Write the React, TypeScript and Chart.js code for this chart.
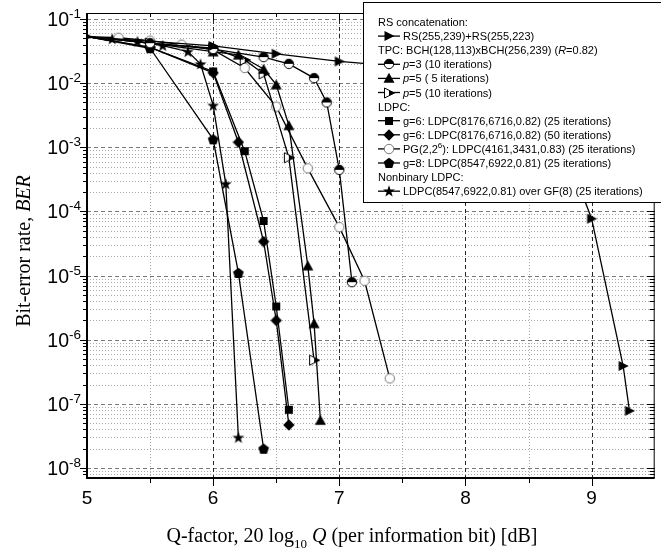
import React, { useEffect, useRef } from "react";
import { Chart, registerables } from "chart.js";
Chart.register(...registerables);

// ---------- data ----------
const rsX = [5, 6, 6.5, 7, 8, 8.6, 9, 9.25, 9.3];
const rsY = [0.053, 0.038, 0.0287, 0.0218, 0.015, 0.009, 7.7e-5, 3.9e-7, 7.8e-8];

const p3X = [5, 5.5, 6, 6.4, 6.6, 6.8, 6.9, 7, 7.1];
const p3Y = [0.053, 0.042, 0.034, 0.0255, 0.02, 0.012, 0.005, 4.45e-4, 7.9e-6];

const p5aX = [5, 5.5, 6, 6.2, 6.4, 6.5, 6.6, 6.75, 6.8, 6.85];
const p5aY = [0.053, 0.042, 0.031, 0.0277, 0.0166, 0.0095, 0.0022, 1.43e-5, 1.8e-6, 5.6e-8];

const p5bX = [5, 5.5, 6, 6.25, 6.4, 6.6, 6.8];
const p5bY = [0.053, 0.042, 0.035, 0.023, 0.014, 6.9e-4, 4.8e-7];

const g6aX = [5, 5.5, 6, 6.25, 6.4, 6.5, 6.6];
const g6aY = [0.053, 0.036, 0.0152, 8.7e-4, 7.1e-5, 3.3e-6, 8.1e-8];

const g6bX = [5, 5.5, 6, 6.2, 6.4, 6.5, 6.6];
const g6bY = [0.053, 0.036, 0.0145, 1.2e-3, 3.4e-5, 2e-6, 4.7e-8];

const pgX = [5, 5.25, 5.5, 5.75, 6, 6.25, 6.5, 6.75, 7, 7.2, 7.4];
const pgY = [0.053, 0.051, 0.046, 0.0398, 0.033, 0.0172, 4.3e-3, 4.7e-4, 5.7e-5, 8.3e-6, 2.5e-7];

const g8X = [5, 5.5, 6, 6.2, 6.4];
const g8Y = [0.053, 0.035, 1.33e-3, 1.1e-5, 2e-8];

const nbX = [5, 5.2, 5.4, 5.6, 5.8, 5.9, 6, 6.1, 6.2];
const nbY = [0.053, 0.049, 0.0446, 0.0386, 0.031, 0.0199, 4.5e-3, 2.7e-4, 3e-8];

const xMajorTicks = [5, 6, 7, 8, 9];
const xMinorTicks = [5.5, 6.5, 7.5, 8.5, 9.5];
const yExponents = [-1, -2, -3, -4, -5, -6, -7, -8];

const X_MIN = 5, X_MAX = 9.5, Y_MIN = 7.5e-9, Y_MAX = 0.124;

type Seg = { t: string; f: string; dy?: number };

const SANS = '"Liberation Sans", Arial, sans-serif';
const SERIF = '"Liberation Serif", "Times New Roman", serif';

function richWidth(ctx: CanvasRenderingContext2D, segs: Seg[]) {
  let w = 0;
  for (const s of segs) { ctx.font = s.f; w += ctx.measureText(s.t).width; }
  return w;
}
function drawRich(ctx: CanvasRenderingContext2D, segs: Seg[], x: number, y: number, align: "left" | "center" | "right") {
  const w = richWidth(ctx, segs);
  let cx = align === "left" ? x : align === "center" ? x - w / 2 : x - w;
  ctx.textAlign = "left";
  ctx.textBaseline = "alphabetic";
  for (const s of segs) {
    ctx.font = s.f;
    ctx.fillText(s.t, cx, y + (s.dy || 0));
    cx += ctx.measureText(s.t).width;
  }
}

function makeMarker(size: number, draw: (c: CanvasRenderingContext2D, s: number) => void) {
  const cv = document.createElement("canvas");
  cv.width = size; cv.height = size;
  const c = cv.getContext("2d")!;
  draw(c, size);
  return cv;
}

function buildMarkers() {
  const poly = (c: CanvasRenderingContext2D, pts: number[][]) => {
    c.beginPath(); c.moveTo(pts[0][0], pts[0][1]);
    for (let i = 1; i < pts.length; i++) c.lineTo(pts[i][0], pts[i][1]);
    c.closePath();
  };
  const rightTri = makeMarker(12, (c) => { poly(c, [[1.5, 1], [11.5, 6], [1.5, 11]]); c.fillStyle = "#000"; c.fill(); });
  const upTri = makeMarker(12, (c) => { poly(c, [[6, 0.8], [11.5, 10.8], [0.5, 10.8]]); c.fillStyle = "#000"; c.fill(); });
  const halfCircle = makeMarker(12, (c) => {
    c.beginPath(); c.arc(6, 6, 4.7, 0, Math.PI * 2); c.fillStyle = "#fff"; c.fill();
    c.beginPath(); c.arc(6, 6, 4.7, Math.PI, Math.PI * 2); c.closePath(); c.fillStyle = "#000"; c.fill();
    c.beginPath(); c.arc(6, 6, 4.7, 0, Math.PI * 2); c.strokeStyle = "#000"; c.lineWidth = 1; c.stroke();
  });
  const halfRightTri = makeMarker(12, (c) => {
    poly(c, [[1.5, 1], [11.5, 6], [1.5, 11]]); c.fillStyle = "#fff"; c.fill();
    c.strokeStyle = "#000"; c.lineWidth = 1; c.stroke();
    poly(c, [[6, 3.25], [11.5, 6], [6, 8.75]]); c.fillStyle = "#000"; c.fill();
  });
  const square = makeMarker(10, (c) => { c.fillStyle = "#000"; c.fillRect(1, 1, 8, 8); });
  const diamond = makeMarker(12, (c) => { poly(c, [[6, 0.3], [11.7, 6], [6, 11.7], [0.3, 6]]); c.fillStyle = "#000"; c.fill(); });
  const openCircle = makeMarker(12, (c) => {
    c.beginPath(); c.arc(6, 6, 4.7, 0, Math.PI * 2); c.fillStyle = "#fff"; c.fill();
    c.strokeStyle = "#777"; c.lineWidth = 1; c.stroke();
  });
  const pentagon = makeMarker(12, (c) => {
    const pts: number[][] = [];
    for (let i = 0; i < 5; i++) { const a = -Math.PI / 2 + (i * 2 * Math.PI) / 5; pts.push([6 + 5.6 * Math.cos(a), 6.4 + 5.6 * Math.sin(a)]); }
    poly(c, pts); c.fillStyle = "#000"; c.fill();
  });
  const star = makeMarker(14, (c) => {
    const pts: number[][] = [];
    for (let i = 0; i < 10; i++) { const a = -Math.PI / 2 + (i * Math.PI) / 5; const r = i % 2 === 0 ? 6.2 : 2.5; pts.push([7 + r * Math.cos(a), 7.5 + r * Math.sin(a)]); }
    poly(c, pts); c.fillStyle = "#000"; c.fill();
  });
  return { rightTri, upTri, halfCircle, halfRightTri, square, diamond, openCircle, pentagon, star };
}

export default function App() {
  const ref = useRef<HTMLCanvasElement | null>(null);

  useEffect(() => {
    const canvas = ref.current!;
    const m = buildMarkers();

    const series = [
      { x: rsX, y: rsY, mk: m.rightTri, hideFirst: false },
      { x: p3X, y: p3Y, mk: m.halfCircle, hideFirst: true },
      { x: p5aX, y: p5aY, mk: m.upTri, hideFirst: true },
      { x: p5bX, y: p5bY, mk: m.halfRightTri, hideFirst: true },
      { x: g6aX, y: g6aY, mk: m.square, hideFirst: true },
      { x: g6bX, y: g6bY, mk: m.diamond, hideFirst: true },
      { x: pgX, y: pgY, mk: m.openCircle, hideFirst: true },
      { x: g8X, y: g8Y, mk: m.pentagon, hideFirst: true },
      { x: nbX, y: nbY, mk: m.star, hideFirst: true },
    ];

    const legendRows: { segs: Seg[]; mk?: HTMLCanvasElement }[] = [];
    const LF = `11px ${SANS}`;
    const LFI = `italic 11px ${SANS}`;
    const LFS = `8px ${SANS}`;
    legendRows.push({ segs: [{ t: "RS concatenation:", f: LF }] });
    legendRows.push({ segs: [{ t: "RS(255,239)+RS(255,223)", f: LF }], mk: m.rightTri });
    legendRows.push({ segs: [{ t: "TPC: BCH(128,113)xBCH(256,239) (", f: LF }, { t: "R", f: LFI }, { t: "=0.82)", f: LF }] });
    legendRows.push({ segs: [{ t: "p", f: LFI }, { t: "=3 (10 iterations)", f: LF }], mk: m.halfCircle });
    legendRows.push({ segs: [{ t: "p", f: LFI }, { t: "=5 ( 5 iterations)", f: LF }], mk: m.upTri });
    legendRows.push({ segs: [{ t: "p", f: LFI }, { t: "=5 (10 iterations)", f: LF }], mk: m.halfRightTri });
    legendRows.push({ segs: [{ t: "LDPC:", f: LF }] });
    legendRows.push({ segs: [{ t: "g=6: LDPC(8176,6716,0.82) (25 iterations)", f: LF }], mk: m.square });
    legendRows.push({ segs: [{ t: "g=6: LDPC(8176,6716,0.82) (50 iterations)", f: LF }], mk: m.diamond });
    legendRows.push({ segs: [{ t: "PG(2,2", f: LF }, { t: "6", f: LFS, dy: -5 }, { t: "): LDPC(4161,3431,0.83) (25 iterations)", f: LF }], mk: m.openCircle });
    legendRows.push({ segs: [{ t: "g=8: LDPC(8547,6922,0.81) (25 iterations)", f: LF }], mk: m.pentagon });
    legendRows.push({ segs: [{ t: "Nonbinary LDPC:", f: LF }] });
    legendRows.push({ segs: [{ t: "LDPC(8547,6922,0.81) over GF(8) (25 iterations)", f: LF }], mk: m.star });

    const line = (ctx: CanvasRenderingContext2D, x1: number, y1: number, x2: number, y2: number) => {
      ctx.beginPath(); ctx.moveTo(x1, y1); ctx.lineTo(x2, y2); ctx.stroke();
    };

    const decorPlugin = {
      id: "decor",
      beforeDatasetsDraw(chart: any) {
        const ctx: CanvasRenderingContext2D = chart.ctx;
        const { left, right, top, bottom } = chart.chartArea;
        const xs = chart.scales.x, ys = chart.scales.y;
        ctx.save();
        ctx.lineWidth = 1;
        ctx.strokeStyle = "#a8a8a8"; ctx.setLineDash([1, 2]);
        for (const v of xMinorTicks) { const px = Math.round(xs.getPixelForValue(v)) + 0.5; if (px < right - 1) line(ctx, px, top, px, bottom); }
        for (let e = -9; e <= -1; e++) for (let k = 2; k <= 9; k++) {
          const v = k * Math.pow(10, e);
          if (v <= Y_MIN || v >= Y_MAX) continue;
          const py = Math.round(ys.getPixelForValue(v)) + 0.5;
          line(ctx, left, py, right, py);
        }
        ctx.strokeStyle = "#7a7a7a"; ctx.setLineDash([4, 3]);
        for (const e of yExponents) { const py = Math.round(ys.getPixelForValue(Math.pow(10, e))) + 0.5; line(ctx, left, py, right, py); }
        ctx.strokeStyle = "#262626"; ctx.setLineDash([4, 3]);
        for (const v of xMajorTicks) { if (v === X_MIN) continue; const px = Math.round(xs.getPixelForValue(v)) + 0.5; line(ctx, px, top, px, bottom); }
        ctx.restore();
      },
      afterDatasetsDraw(chart: any) {
        const ctx: CanvasRenderingContext2D = chart.ctx;
        const { left, right, top, bottom } = chart.chartArea;
        const xs = chart.scales.x, ys = chart.scales.y;
        ctx.save();
        ctx.setLineDash([]);
        ctx.strokeStyle = "#000";
        ctx.lineWidth = 1;
        line(ctx, left, top + 0.5, right, top + 0.5);
        line(ctx, right - 0.5, top, right - 0.5, bottom);
        ctx.lineWidth = 2;
        line(ctx, left, top, left, bottom + 1);
        line(ctx, left - 1, bottom, right, bottom);
        ctx.lineWidth = 1;
        for (const v of xMajorTicks) {
          const px = Math.round(xs.getPixelForValue(v)) + 0.5;
          if (v !== X_MIN) line(ctx, px, bottom, px, bottom + 8);
          line(ctx, px, top, px, top + 7);
        }
        for (const v of xMinorTicks) {
          const px = Math.round(xs.getPixelForValue(v)) + 0.5;
          if (px >= right - 1) continue;
          line(ctx, px, bottom, px, bottom + 5);
          line(ctx, px, top, px, top + 4);
        }
        for (const e of yExponents) {
          const py = Math.round(ys.getPixelForValue(Math.pow(10, e))) + 0.5;
          line(ctx, left - 7, py, left, py);
          line(ctx, right - 8, py, right, py);
        }
        for (let e = -9; e <= -1; e++) for (let k = 2; k <= 9; k++) {
          const v = k * Math.pow(10, e);
          if (v <= Y_MIN || v >= Y_MAX) continue;
          const py = Math.round(ys.getPixelForValue(v)) + 0.5;
          line(ctx, left - 4, py, left, py);
          line(ctx, right - 5, py, right, py);
        }
        ctx.fillStyle = "#000";
        for (const e of yExponents) {
          const py = ys.getPixelForValue(Math.pow(10, e));
          drawRich(ctx, [{ t: "10", f: `19.5px ${SANS}` }, { t: String(e), f: `13.5px ${SANS}`, dy: -8 }], 81, py + 7, "right");
        }
        for (const v of xMajorTicks) {
          const px = xs.getPixelForValue(v);
          drawRich(ctx, [{ t: String(v), f: `19px ${SANS}` }], px, 504, "center");
        }
        drawRich(ctx, [
          { t: "Q-factor, 20 log", f: `20px ${SERIF}` },
          { t: "10", f: `13px ${SERIF}`, dy: 6 },
          { t: " ", f: `20px ${SERIF}` },
          { t: "Q", f: `italic 20px ${SERIF}` },
          { t: " (per information bit) [dB]", f: `20px ${SERIF}` },
        ], 352, 542, "center");
        ctx.save();
        ctx.translate(30, 251);
        ctx.rotate(-Math.PI / 2);
        drawRich(ctx, [
          { t: "Bit-error rate, ", f: `20px ${SERIF}` },
          { t: "BER", f: `italic 20px ${SERIF}` },
        ], 0, 0, "center");
        ctx.restore();
        // legend
        ctx.fillStyle = "#fff";
        ctx.fillRect(363, 2, 300, 201);
        ctx.strokeStyle = "#000"; ctx.lineWidth = 1;
        ctx.strokeRect(363.5, 2.5, 300, 200);
        ctx.fillStyle = "#000";
        legendRows.forEach((r, i) => {
          const y = 22 + i * 14.1;
          if (r.mk) {
            ctx.lineWidth = 1.3; ctx.strokeStyle = "#000";
            line(ctx, 378, y, 400, y);
            ctx.drawImage(r.mk, Math.round(389 - r.mk.width / 2), Math.round(y - r.mk.height / 2));
            drawRich(ctx, r.segs, 403, y + 4, "left");
          } else {
            drawRich(ctx, r.segs, 378, y + 4, "left");
          }
        });
        ctx.restore();
      },
    };

    const chart = new Chart(canvas, {
      type: "scatter",
      data: {
        datasets: series.map((s) => ({
          data: s.x.map((x, i) => ({ x, y: s.y[i] })),
          showLine: true,
          borderColor: "#000",
          backgroundColor: "#000",
          borderWidth: 1.3,
          pointStyle: s.mk,
          pointRadius: (c: any) => (s.hideFirst && c.dataIndex === 0 ? 0 : 5),
          tension: 0,
        })),
      },
      options: {
        responsive: false,
        animation: false,
        events: [],
        layout: { padding: { top: 13, right: 1, left: 0, bottom: 0 } },
        plugins: { legend: { display: false }, tooltip: { enabled: false } },
        scales: {
          x: {
            type: "linear", min: X_MIN, max: X_MAX,
            grid: { display: false }, border: { display: false }, ticks: { display: false },
            afterFit: (s: any) => { s.height = 76; },
          },
          y: {
            type: "logarithmic", min: Y_MIN, max: Y_MAX,
            grid: { display: false }, border: { display: false }, ticks: { display: false },
            afterFit: (s: any) => { s.width = 87; },
          },
        },
      } as any,
      plugins: [decorPlugin],
    });
    return () => chart.destroy();
  }, []);

  return (
    <div style={{ position: "fixed", left: 0, top: 0, width: 661, height: 554, background: "#fff" }}>
      <canvas ref={ref} width={661} height={554} style={{ display: "block" }} />
    </div>
  );
}
